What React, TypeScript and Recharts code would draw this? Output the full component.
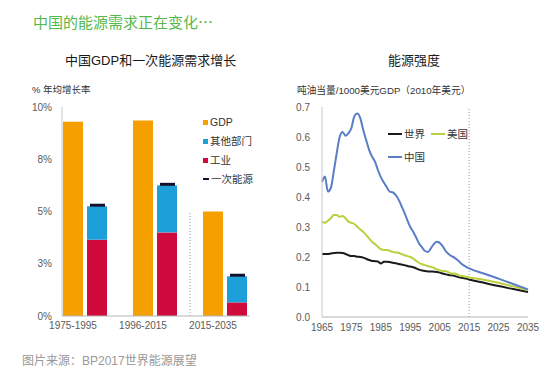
import React from 'react';
import { ComposedChart, Bar, XAxis, YAxis, ReferenceLine, LineChart, Line } from 'recharts';

const periods = ['1975-1995', '1996-2015', '2015-2035'];
const gdpGrowth = [9.3, 9.35, 5.0];
const industryGrowth = [3.65, 4.0, 0.65];
const otherGrowth = [1.6, 2.25, 1.25];
const primaryEnergyGrowth = [5.3, 6.3, 1.95];
const growthTicks = [0, 2.5, 5, 7.5, 10];

const years = [
  1965, 1966, 1967, 1968, 1969, 1970, 1971, 1972, 1973, 1974,
  1975, 1976, 1977, 1978, 1979, 1980, 1981, 1982, 1983, 1984,
  1985, 1986, 1987, 1988, 1989, 1990, 1991, 1992, 1993, 1994,
  1995, 1996, 1997, 1998, 1999, 2000, 2001, 2002, 2003, 2004,
  2005, 2006, 2007, 2008, 2009, 2010, 2011, 2012, 2013, 2014,
  2015, 2020, 2025, 2030, 2035,
];
const chinaIntensity = [
  0.45, 0.468, 0.418, 0.43, 0.485, 0.546, 0.6, 0.617, 0.604, 0.613,
  0.63, 0.669, 0.678, 0.663, 0.624, 0.59, 0.557, 0.535, 0.518, 0.49,
  0.466, 0.448, 0.433, 0.418, 0.416, 0.407, 0.392, 0.37, 0.348, 0.323,
  0.3, 0.284, 0.265, 0.245, 0.232, 0.22, 0.217, 0.229, 0.243, 0.251,
  0.247, 0.236, 0.22, 0.21, 0.203, 0.198, 0.19, 0.181, 0.173, 0.167,
  0.162, 0.145, 0.128, 0.11, 0.092,
];
const usIntensity = [
  0.318, 0.314, 0.321, 0.329, 0.34, 0.34, 0.334, 0.337, 0.329, 0.318,
  0.314, 0.31, 0.301, 0.292, 0.284, 0.273, 0.262, 0.251, 0.243, 0.234,
  0.226, 0.223, 0.223, 0.221, 0.217, 0.215, 0.214, 0.21, 0.206, 0.203,
  0.2, 0.195, 0.187, 0.18, 0.176, 0.173, 0.17, 0.167, 0.164, 0.159,
  0.156, 0.153, 0.153, 0.149, 0.145, 0.145, 0.142, 0.137, 0.136, 0.134,
  0.132, 0.124, 0.114, 0.102, 0.09,
];
const worldIntensity = [
  0.21, 0.21, 0.21, 0.212, 0.213, 0.214, 0.214, 0.213, 0.21, 0.206,
  0.203, 0.203, 0.201, 0.2, 0.198, 0.194, 0.19, 0.187, 0.186, 0.185,
  0.178, 0.184, 0.184, 0.183, 0.181, 0.179, 0.177, 0.175, 0.173, 0.17,
  0.168, 0.166, 0.162, 0.158, 0.155, 0.153, 0.152, 0.152, 0.151, 0.15,
  0.148, 0.145, 0.142, 0.14, 0.139, 0.137, 0.134, 0.132, 0.13, 0.128,
  0.125, 0.114, 0.103, 0.093, 0.083,
];
const intensityTicks = [0, 0.1, 0.2, 0.3, 0.4, 0.5, 0.6, 0.7];
const yearTicks = [1965, 1975, 1985, 1995, 2005, 2015, 2025, 2035];

const FONT = "'Liberation Sans', 'Noto Sans CJK SC', sans-serif";
const CJK = "'Noto Sans CJK SC', 'Liberation Sans', sans-serif";
const C_GDP = '#f5a000';
const C_OTHER = '#1d9fda';
const C_IND = '#cf0a3c';
const C_PRIM = '#101030';
const C_WORLD = '#1a1a1a';
const C_US = '#bccf3e';
const C_CN = '#5a7ec6';

const barData = periods.map((p, i) => ({
  period: p,
  gdp: gdpGrowth[i],
  industry: industryGrowth[i],
  other: otherGrowth[i],
  primary: primaryEnergyGrowth[i],
}));

const lineData = years.map((y, i) => ({
  year: y,
  china: chinaIntensity[i],
  us: usIntensity[i],
  world: worldIntensity[i],
}));

const OtherShape = (props: any) => {
  const { x, y, width, height, fill, payload } = props;
  const per = payload.other > 0 ? height / payload.other : 0;
  const my = y + height - (payload.primary - payload.industry) * per;
  return (
    <g>
      <rect x={x} y={y} width={width} height={height} fill={fill} />
      <rect x={x + 3} y={my - 1.5} width={width - 5} height={3} fill={C_PRIM} />
    </g>
  );
};

const txt = (s: React.CSSProperties): React.CSSProperties => ({
  position: 'absolute',
  whiteSpace: 'nowrap',
  fontFamily: FONT,
  lineHeight: 1,
  ...s,
});

const tickStyle = { fontSize: 10, fill: '#5a5a5a', fontFamily: FONT };

export default function App() {
  return (
    <div style={{ position: 'absolute', left: 0, top: 0, width: 554, height: 371, background: '#fff', overflow: 'hidden', fontFamily: FONT }}>
      <div style={txt({ left: 33, top: 14, fontSize: 15, color: '#55b84c', fontFamily: CJK })}>中国的能源需求正在变化…</div>
      <div style={txt({ left: 65, top: 54, fontSize: 13, color: '#1a1a1a' })}>中国GDP和一次能源需求增长</div>
      <div style={txt({ left: 388, top: 54, fontSize: 13, color: '#1a1a1a' })}>能源强度</div>
      <div style={txt({ left: 32, top: 85, fontSize: 9.5, color: '#333' })}>% 年均增长率</div>
      <div style={txt({ left: 297, top: 86, fontSize: 9.7, color: '#333' })}>吨油当量/1000美元GDP（2010年美元）</div>
      <div style={txt({ left: 22, top: 355, fontSize: 12, color: '#999' })}>图片来源：BP2017世界能源展望</div>

      <div style={{ position: 'absolute', left: 0, top: 0 }}>
        <ComposedChart
          width={300}
          height={371}
          data={barData}
          margin={{ top: 107, right: 50, bottom: 35, left: 32 }}
          barGap={4}
          style={{ fontFamily: FONT }}
        >
          <XAxis
            dataKey="period"
            padding={{ left: -12, right: -10 }}
            height={20}
            tickLine={false}
            axisLine={{ stroke: '#b5b5b5' }}
            tick={{ ...tickStyle, dx: -12 }}
            tickSize={0}
            tickMargin={6}
            interval={0}
          />
          <YAxis
            width={30}
            domain={[0, 10]}
            ticks={growthTicks}
            tickFormatter={(v: number) => `${Math.round(v)}%`}
            tickLine={false}
            axisLine={{ stroke: '#c8c8c8' }}
            tick={tickStyle}
            tickSize={0}
            tickMargin={10}
          />
          <ReferenceLine
            segment={[{ x: '2015-2035', y: 0 }, { x: '2015-2035', y: 5 }]}
            position="start"
            stroke="#999"
            strokeDasharray="1 2"
          />
          <Bar dataKey="gdp" stackId="g" fill={C_GDP} barSize={20} isAnimationActive={false} />
          <Bar dataKey="industry" stackId="e" fill={C_IND} barSize={20} isAnimationActive={false} />
          <Bar dataKey="other" stackId="e" fill={C_OTHER} barSize={20} shape={OtherShape} isAnimationActive={false} />
        </ComposedChart>
      </div>

      {[
        { label: 'GDP', color: C_GDP, y: 122, type: 'sq' },
        { label: '其他部门', color: C_OTHER, y: 141, type: 'sq' },
        { label: '工业', color: C_IND, y: 160, type: 'sq' },
        { label: '一次能源', color: C_PRIM, y: 179, type: 'ln' },
      ].map((it) => (
        <div key={it.label} style={{ position: 'absolute', left: 203, top: it.y - 6, height: 12, display: 'flex', alignItems: 'center' }}>
          <span
            style={{
              display: 'inline-block',
              width: it.type === 'sq' ? 5 : 6,
              height: it.type === 'sq' ? 5 : 2,
              background: it.color,
              marginRight: 2,
            }}
          />
          <span style={{ fontFamily: FONT, fontSize: 10.5, color: '#333', lineHeight: 1 }}>{it.label}</span>
        </div>
      ))}

      <div style={{ position: 'absolute', left: 270, top: 0 }}>
        <LineChart
          width={284}
          height={371}
          data={lineData}
          margin={{ top: 107, right: 26, bottom: 34, left: 22 }}
          style={{ fontFamily: FONT }}
        >
          <XAxis
            dataKey="year"
            type="number"
            domain={[1965, 2035]}
            ticks={yearTicks}
            height={20}
            tickLine={false}
            axisLine={{ stroke: '#b5b5b5' }}
            tick={tickStyle}
            tickSize={0}
            tickMargin={7}
            interval={0}
          />
          <YAxis
            width={30}
            domain={[0, 0.7]}
            ticks={intensityTicks}
            tickFormatter={(v: number) => v.toFixed(1)}
            tickLine={false}
            axisLine={{ stroke: '#c8c8c8' }}
            tick={tickStyle}
            tickSize={0}
            tickMargin={12}
          />
          <ReferenceLine x={2015} stroke="#999" strokeDasharray="1 2" />
          <Line dataKey="world" stroke={C_WORLD} strokeWidth={2} dot={false} type="monotone" isAnimationActive={false} />
          <Line dataKey="us" stroke={C_US} strokeWidth={2} dot={false} type="monotone" isAnimationActive={false} />
          <Line dataKey="china" stroke={C_CN} strokeWidth={2} dot={false} type="monotone" isAnimationActive={false} />
        </LineChart>
      </div>

      {[
        { label: '世界', color: C_WORLD, x: 388, y: 134 },
        { label: '美国', color: C_US, x: 431, y: 134 },
        { label: '中国', color: C_CN, x: 388, y: 157 },
      ].map((it) => (
        <div key={it.label} style={{ position: 'absolute', left: it.x, top: it.y - 6, height: 12, display: 'flex', alignItems: 'center' }}>
          <span style={{ display: 'inline-block', width: 14, height: 2, background: it.color, marginRight: 2 }} />
          <span style={{ fontFamily: FONT, fontSize: 10.5, color: '#333', lineHeight: 1 }}>{it.label}</span>
        </div>
      ))}
    </div>
  );
}
